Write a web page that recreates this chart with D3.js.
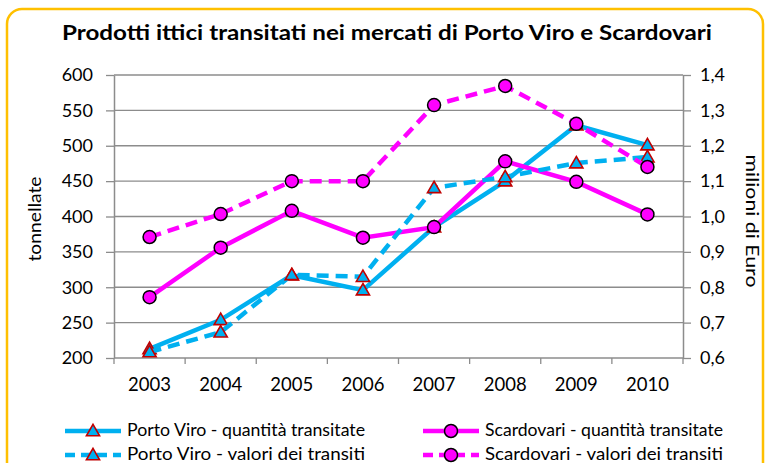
<!DOCTYPE html>
<html>
<head>
<meta charset="utf-8">
<script src="https://cdn.jsdelivr.net/npm/d3@7"></script>
<style>
  body { margin: 0; background: #fff; }
  svg { display: block; font-family: Lato, "Open Sans", sans-serif; }
</style>
</head>
<body>
<svg id="chart" width="766" height="463"></svg>
<script>
// data
const years = ["2003", "2004", "2005", "2006", "2007", "2008", "2009", "2010"];
const pvQuantita = [213, 254, 317, 296, 385, 450, 529, 501];         // tonnellate
const scQuantita = [286, 356, 408, 370, 385, 478, 449, 403];         // tonnellate
const pvValori = [0.617, 0.673, 0.835, 0.830, 1.081, 1.112, 1.151, 1.168]; // milioni di Euro
const scValori = [0.942, 1.007, 1.100, 1.100, 1.315, 1.369, 1.262, 1.140]; // milioni di Euro
const leftTicks = [200, 250, 300, 350, 400, 450, 500, 550, 600];
const rightTicks = [0.6, 0.7, 0.8, 0.9, 1.0, 1.1, 1.2, 1.3, 1.4];

const blue = "#00B0F0", pink = "#FF00FF";
const series = [
  {name: "Porto Viro - quantità transitate", values: pvQuantita, axis: "left", color: blue, dash: null, marker: "tri"},
  {name: "Scardovari - quantità transitate", values: scQuantita, axis: "left", color: pink, dash: null, marker: "circ"},
  {name: "Porto Viro - valori dei transiti", values: pvValori, axis: "right", color: blue, dash: "12,7", marker: "tri"},
  {name: "Scardovari - valori dei transiti", values: scValori, axis: "right", color: pink, dash: "12,7", marker: "circ"}
];

const svg = d3.select("#chart");
const margin = {top: 75, left: 114, right: 83, bottom: 105};
const width = 766 - margin.left - margin.right;
const height = 463 - margin.top - margin.bottom;

// outer frame
svg.append("rect")
  .attr("x", 7).attr("y", 9).attr("width", 756).attr("height", 480)
  .attr("rx", 15).attr("fill", "#fff")
  .attr("stroke", "#FFC000").attr("stroke-width", 2.5);

svg.append("text")
  .attr("x", 387).attr("y", 40)
  .attr("text-anchor", "middle")
  .attr("font-weight", "bold").attr("font-size", 20)
  .attr("textLength", 650).attr("lengthAdjust", "spacingAndGlyphs")
  .text("Prodotti ittici transitati nei mercati di Porto Viro e Scardovari");

const g = svg.append("g").attr("transform", `translate(${margin.left},${margin.top})`);

const x = d3.scaleBand().domain(years).range([0, width]);
const yL = d3.scaleLinear().domain([200, 600]).range([height, 0]);
const yR = d3.scaleLinear().domain([0.6, 1.4]).range([height, 0]);

// gridlines
g.append("g").selectAll("line").data(leftTicks.slice(1)).join("line")
  .attr("x1", 0).attr("x2", width)
  .attr("y1", d => yL(d)).attr("y2", d => yL(d))
  .attr("stroke", "#8c8c8c").attr("stroke-width", 1.3);

const axisStyle = sel => {
  sel.select(".domain").attr("stroke", "#8c8c8c").attr("stroke-width", 1.5);
  sel.selectAll(".tick line").attr("stroke", "#8c8c8c").attr("stroke-width", 1.3);
  sel.selectAll("text").attr("fill", "#000").attr("font-size", 18).attr("font-family", "Lato, 'Open Sans', sans-serif");
};

g.append("g")
  .call(d3.axisLeft(yL).tickValues(leftTicks).tickSize(8).tickSizeOuter(0).tickPadding(13))
  .call(axisStyle);

g.append("g").attr("transform", `translate(${width},0)`)
  .call(d3.axisRight(yR).tickValues(rightTicks).tickSize(8).tickSizeOuter(0).tickPadding(9)
    .tickFormat(d => d3.format(".1f")(d).replace(".", ",")))
  .call(axisStyle);

// x axis with ticks at band boundaries
const xAxisG = g.append("g").attr("transform", `translate(0,${height})`);
xAxisG.append("line").attr("x1", 0).attr("x2", width)
  .attr("stroke", "#8c8c8c").attr("stroke-width", 1.5);
xAxisG.selectAll("line.tk").data(years.concat(["end"])).join("line").attr("class", "tk")
  .attr("x1", (d, i) => i * x.bandwidth()).attr("x2", (d, i) => i * x.bandwidth())
  .attr("y1", 0).attr("y2", 6)
  .attr("stroke", "#8c8c8c").attr("stroke-width", 1.3);
xAxisG.selectAll("text").data(years).join("text")
  .attr("x", d => x(d) + x.bandwidth() / 2).attr("y", 33)
  .attr("text-anchor", "middle").attr("font-size", 18.5)
  .text(d => d);

// axis titles
svg.append("text")
  .attr("transform", "translate(41,219) rotate(-90)")
  .attr("text-anchor", "middle").attr("font-size", 17.5)
  .attr("textLength", 85).attr("lengthAdjust", "spacingAndGlyphs")
  .text("tonnellate");
svg.append("text")
  .attr("transform", "translate(746,221) rotate(90)")
  .attr("text-anchor", "middle").attr("font-size", 16.5)
  .attr("textLength", 133).attr("lengthAdjust", "spacingAndGlyphs")
  .text("milioni di Euro");

const cx = d => x(d) + x.bandwidth() / 2;
const triPath = d3.symbol().type(d3.symbolTriangle).size(75);

function drawMarker(sel, s) {
  if (s.marker === "tri") {
    sel.append("path").attr("d", triPath)
      .attr("transform", "translate(0,1)")
      .attr("fill", blue).attr("stroke", "#C00000").attr("stroke-width", 1.6);
  } else {
    sel.append("circle").attr("r", 6.5)
      .attr("fill", pink).attr("stroke", "#000").attr("stroke-width", 1.5);
  }
}

// lines drawn in order, then markers
series.forEach(s => {
  const y = s.axis === "left" ? yL : yR;
  const line = d3.line().x((d, i) => cx(years[i])).y(d => y(d));
  g.append("path").datum(s.values)
    .attr("d", line)
    .attr("fill", "none").attr("stroke", s.color).attr("stroke-width", 4.5)
    .attr("stroke-dasharray", s.dash);
  g.append("g").selectAll("g").data(s.values).join("g")
    .attr("transform", (d, i) => `translate(${cx(years[i])},${y(d)})`)
    .each(function() { drawMarker(d3.select(this), s); });
});

// legend
const legendPos = [
  {x: 65, y: 431}, {x: 423, y: 431}, {x: 65, y: 455}, {x: 423, y: 455}
];
series.forEach((s, i) => {
  const p = legendPos[i];
  const lg = svg.append("g").attr("transform", `translate(${p.x},${p.y})`);
  lg.append("line").attr("x1", 0).attr("x2", 56)
    .attr("stroke", s.color).attr("stroke-width", 4.5)
    .attr("stroke-dasharray", s.dash ? "10,6" : null);
  const m = lg.append("g").attr("transform", "translate(28,0)");
  drawMarker(m, s);
  lg.append("text").attr("x", 62).attr("y", 5)
    .attr("font-size", 17)
    .attr("textLength", 238).attr("lengthAdjust", "spacingAndGlyphs")
    .text(s.name);
});
</script>
</body>
</html>
